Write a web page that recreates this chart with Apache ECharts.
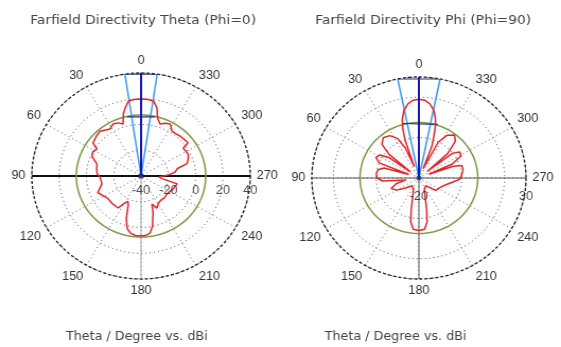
<!DOCTYPE html>
<html>
<head>
<meta charset="utf-8">
<script src="https://cdn.jsdelivr.net/npm/echarts@6/dist/echarts.min.js"></script>
<style>
  html, body { margin: 0; padding: 0; background: #fff; overflow: hidden; }
  #wrap { width: 561px; height: 347px; overflow: hidden; }
  #chart { width: 529px; height: 347px; transform: scaleX(1.0605); transform-origin: 0 0; }
</style>
</head>
<body>
<div id="wrap"><div id="chart"></div></div>
<script>
// Angle ticks (degrees) shared by both polar plots
const angleTicks = [0, 30, 60, 90, 120, 150, 180, 210, 240, 270, 300, 330];

// Theta cut (Phi = 0): angle in degrees, directivity in dBi
const thetaLeft = [0,5,9,12.5,15,18,22,27,32,37,41,47,54,57,62,67,74,80,87,92,102,112,118,125,135,146,149,154,157,162,166,170,175,180,185,188.5,192,197,200,205,210,216,225,234,247,257,262,267,272,277,282,286,291,296,301,305,307,312,317,322,327,332,337,341,345,347.5,351,355,360];
const gainLeft = [19.8,19.6,19,14,10,2.5,4.5,5.3,3,4.5,6,5,3.5,-1.5,0,-1,-6.4,-7,-7.8,-10,-10.7,-5.8,-8,-10,-10,-10,-14.5,-18,-16,-5,2,5,6.4,6.6,6.2,4.7,0,-10,-16.8,-12.5,-15,-16.2,-16,-16.4,-14.4,-12.8,-24,-27,-20,-15,-13,-5,-3,-1.6,-2,-2.3,3,2.5,2.2,1.5,1.6,5.7,4.5,2.7,6.6,14,18.9,19.6,19.8];

// Phi cut (Phi = 90)
const thetaRight = [0,4,8,12,15,17,19,21,23,27,33,40,46,50,52,54,58,63,68,70,73,78,84,90,95,99,105,112,120,128,140,155,163,167,170,174,180,186,190,193,197,205,220,232,245,255,263,268,274,281,287,290,292,294,299,304,308,310,312,317,322,328,333,337,339,341,343,345,348,352,356,360];
const gainRight = [19,18.6,17,14,10,6,0,-14,-4,2,5,6,4,-2,-15,-3,1.5,2.5,0,-15,-3,-0.5,0,-0.5,-3,-14,-9,-6,-8,-12,-15,-14,-10,-4,2,5.5,6,5.5,2,-4,-10,-14,-15,-10,-9,-7,-4,-1,0,1,1,-3,-15,-3,2.5,3,0,-15,-2,5,7,5,0,-15,-3,1,6,10,14,17,18.6,19];

// Radial scale per plot and the tick labels printed along the 270° direction
const radiusLeft = { min: -40, max: 40, interval: 20 };
const radiusRight = { min: -20, max: 30, interval: 20 };
const radiusLabelsLeft = [-40, -20, 0, 20, 40];
const radiusLabelsRight = [-20, 30];

// Main lobe direction, 3 dB angular width edges, side lobe level, width marker
const mainDirLeft = 0, widthEdgesLeft = [8.5, 351.5], sideLobeLeft = 7.4, widthMarkLeft = { level: 7, angles: [12.6, 347.4] };
const mainDirRight = 0, widthEdgesRight = [11.4, 348.6], sideLobeRight = 7.5, widthMarkRight = { level: 8, angles: [15.6, 341.6] };

const titles = ['Farfield Directivity Theta (Phi=0)', 'Farfield Directivity Phi (Phi=90)'];
const xTitle = 'Theta / Degree vs. dBi';

const FONT = 'Liberation Sans, Arial, sans-serif';
const TITLE_FONT = 'DejaVu Sans, Verdana, sans-serif';

function pairs(r, a) { return a.map((ang, i) => [r[i], ang]); }

function circle(level) {
  const pts = [];
  for (let a = 0; a <= 360; a += 3) pts.push([level, a]);
  return pts;
}

function plotSeries(k, rad, theta, gain, dir, edges, sll, mark, rLabels, axisColor, axisWidth, downColor, labelGap) {
  const lineBase = { type: 'line', coordinateSystem: 'polar', polarIndex: k, symbol: 'none', silent: true, animation: false };
  return [
    // horizontal axis through the centre (90° - 270°)
    Object.assign({}, lineBase, { data: [[rad.max, 90], [rad.max, 270]], lineStyle: { color: axisColor, width: axisWidth }, z: 2 }),
    // lower vertical axis (centre to 180°)
    Object.assign({}, lineBase, { data: [[rad.min, 180], [rad.max, 180]], lineStyle: { color: downColor, width: 1 }, z: 2 }),
    // side lobe level circle
    Object.assign({}, lineBase, { data: circle(sll), lineStyle: { color: '#7d9a45', width: 1.5 }, z: 3 }),
    // 3 dB angular width edges
    Object.assign({}, lineBase, { data: [[rad.max, edges[0]], [rad.min, 0], [rad.max, edges[1]]], lineStyle: { color: '#3a9cf0', width: 1.5 }, z: 4 }),
    // cap joining the width edges at the rim
    Object.assign({}, lineBase, { data: [[rad.max, edges[0]], [rad.max, edges[1]]], lineStyle: { color: '#2b2b6a', width: 1.2 }, z: 4 }),
    // width marker across the main lobe
    Object.assign({}, lineBase, { data: [[mark.level, mark.angles[0]], [mark.level, mark.angles[1]]], lineStyle: { color: '#2b2b6a', width: 1.2 }, z: 4 }),
    // directivity pattern
    Object.assign({}, lineBase, { data: pairs(gain, theta), lineStyle: { color: '#e3262a', width: 1.5 }, z: 5 }),
    // main lobe direction
    Object.assign({}, lineBase, { data: [[rad.min, dir], [rad.max, dir]], lineStyle: { color: '#1414b4', width: 2 }, z: 6 }),
    // centre dot
    { type: 'scatter', coordinateSystem: 'polar', polarIndex: k, data: [[rad.min, 0]], symbolSize: 5, itemStyle: { color: '#1a2a8a' }, silent: true, animation: false, z: 7 },
    // radial tick labels along 270°
    { type: 'scatter', coordinateSystem: 'polar', polarIndex: k, symbolSize: 0, silent: true, animation: false, z: 8,
      data: rLabels.map(v => [v, 270]),
      label: { show: true, position: 'bottom', distance: labelGap, formatter: p => String(p.value[0]), color: '#222', fontSize: 12, fontFamily: FONT } }
  ];
}

function angleAxis(k) {
  return {
    polarIndex: k, type: 'value', min: 0, max: 360, interval: 30, startAngle: 90, clockwise: false,
    axisLine: { show: true, lineStyle: { color: '#222', width: 1.3, type: [3, 2] } },
    axisTick: { show: false },
    axisLabel: { show: true, margin: 6, color: '#333', fontSize: 12, fontFamily: FONT, formatter: v => (angleTicks.indexOf(v) >= 0 ? String(v) : '') },
    splitLine: { show: true, lineStyle: { color: '#666', width: 1, type: [1, 3] } }
  };
}

function radiusAxis(k, rad) {
  return {
    polarIndex: k, type: 'value', min: rad.min, max: rad.max, interval: rad.interval,
    axisLine: { show: false }, axisTick: { show: false }, axisLabel: { show: false },
    splitLine: { show: true, lineStyle: { color: '#444', width: 1, type: [1, 3] } }
  };
}

const titleStyle = { fontSize: 13, fontWeight: 'normal', color: '#444', fontFamily: TITLE_FONT };
const subStyle = { fontSize: 12, fontWeight: 'normal', color: '#444', fontFamily: TITLE_FONT };

const chart = echarts.init(document.getElementById('chart'), null, { renderer: 'canvas' });
chart.setOption({
  animation: false,
  backgroundColor: '#fff',
  title: [
    { text: titles[0], left: 130, top: 9, textAlign: 'center', textStyle: titleStyle },
    { text: titles[1], left: 394, top: 9, textAlign: 'center', textStyle: titleStyle },
    { text: xTitle, left: 124, top: 326, textAlign: 'center', textStyle: subStyle },
    { text: xTitle, left: 368, top: 326, textAlign: 'center', textStyle: subStyle }
  ],
  polar: [
    { center: [133, 176], radius: 103 },
    { center: [395, 178], radius: 101 }
  ],
  angleAxis: [angleAxis(0), angleAxis(1)],
  radiusAxis: [radiusAxis(0, radiusLeft), radiusAxis(1, radiusRight)],
  series: [].concat(
    plotSeries(0, radiusLeft, thetaLeft, gainLeft, mainDirLeft, widthEdgesLeft, sideLobeLeft, widthMarkLeft, radiusLabelsLeft, '#111', 2, '#aaa', 9),
    plotSeries(1, radiusRight, thetaRight, gainRight, mainDirRight, widthEdgesRight, sideLobeRight, widthMarkRight, radiusLabelsRight, '#555', 1, '#555', 13)
  )
});
</script>
</body>
</html>
